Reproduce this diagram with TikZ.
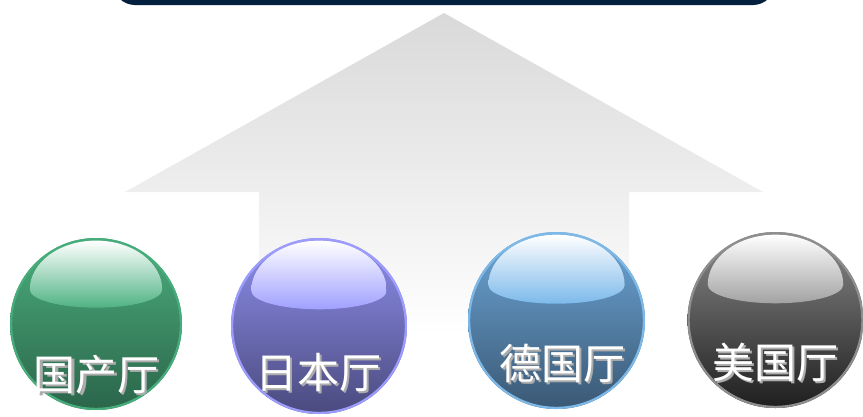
\documentclass[tikz,border=0pt]{standalone}
\usepackage{fontspec}
\newfontfamily\cjk{Noto Sans CJK SC}
\definecolor{barnavy}{HTML}{04203F}
\definecolor{arrowtop}{HTML}{D9D9D9}
\definecolor{grRim}{HTML}{46AD7A}\definecolor{grTop}{HTML}{4BAE7D}\definecolor{grBot}{HTML}{2B654A}\definecolor{grHi}{HTML}{4FB383}
\definecolor{puRim}{HTML}{9C9CFF}\definecolor{puTop}{HTML}{8F8FEE}\definecolor{puBot}{HTML}{4A4A7E}\definecolor{puHi}{HTML}{A0A0FF}
\definecolor{blRim}{HTML}{7DB9E8}\definecolor{blTop}{HTML}{6DA7D8}\definecolor{blBot}{HTML}{3A5874}\definecolor{blHi}{HTML}{7CB9EA}
\definecolor{gyRim}{HTML}{8E8E8E}\definecolor{gyTop}{HTML}{8A8A8A}\definecolor{gyBot}{HTML}{1E1E1E}\definecolor{gyHi}{HTML}{A2A2A2}
\newcommand\glossball[7]{% cx, cy, r, rim, top, bottom, highlight
  \begin{scope}[shift={(#1,#2)}]
    \shade[top color=#5, bottom color=#6] (0,0) circle[radius=#3];
    \draw[#4, line width=2.2] (0,0) circle[radius=#3-1.1];
    \shade[top color=white, bottom color=#7]
      (-0.77*#3,-0.4*#3) arc[start angle=180, end angle=360, x radius=0.77*#3, y radius=0.57*#3]
      arc[start angle=0, end angle=180, x radius=0.77*#3, y radius=0.21*#3];
  \end{scope}}
\newcommand\embossed[1]{\makebox[0pt][l]{\kern2pt\raisebox{-2pt}{\textcolor{gray!65}{#1}}}#1}
\tikzset{
  halltext/.style={text=white, font=\cjk\fontsize{42}{42}\selectfont, inner sep=0}
}
\begin{document}
\begin{tikzpicture}[x=1pt,y=-1pt]
\useasboundingbox (0,0) rectangle (863,416);
\clip (0,0) rectangle (863,416);
% top bar
\fill[barnavy, rounded corners=22] (113,-45) rectangle (775,5);
% big arrow
\shade[top color=arrowtop, bottom color=white]
  (444,13) -- (763,192) -- (629,192) -- (629,335) -- (259,335) -- (259,192) -- (125,192) -- cycle;
% spheres
\glossball{96}{324}{86}{grRim}{grTop}{grBot}{grHi}
\glossball{319}{326}{88}{puRim}{puTop}{puBot}{puHi}
\glossball{556.5}{320.5}{88.5}{blRim}{blTop}{blBot}{blHi}
\glossball{775.5}{320}{88}{gyRim}{gyTop}{gyBot}{gyHi}
% labels
\node[halltext] (gc) at (97,376) {\embossed{国产厅}};
\node[halltext] (jp) at (318,374) {\embossed{日本厅}};
\node[halltext] (de) at (562,364) {\embossed{德国厅}};
\node[halltext] (us) at (775,363) {\embossed{美国厅}};
\end{tikzpicture}
\end{document}
